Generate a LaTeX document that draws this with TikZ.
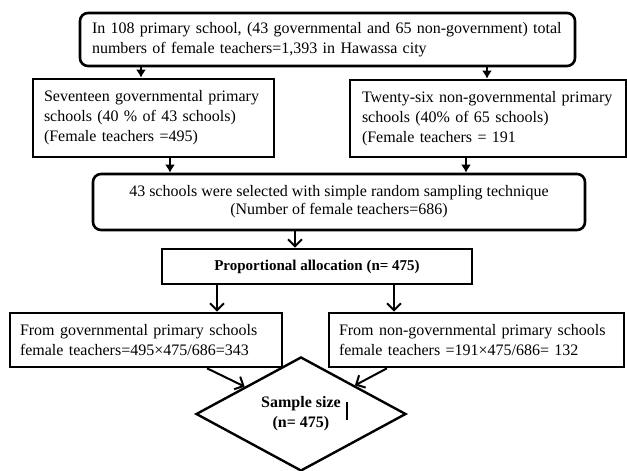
\documentclass[tikz,border=0pt]{standalone}
\usepackage{fontspec}
\setmainfont{Liberation Serif}
\usetikzlibrary{shapes.geometric,arrows.meta}
\begin{document}
\begin{tikzpicture}[x=1pt,y=-1pt,
  boxbase/.style={draw, line width=2.6pt, inner sep=0pt, font=\fontsize{16}{20}\selectfont},
  sqbox/.style={boxbase},
  rndbox/.style={boxbase, rounded corners=8pt},
  arrF/.style={line width=1.6pt, -{Latex[length=8pt,width=10pt]}},
  arrV/.style={line width=2pt, -{Straight Barb[length=7pt,width=14pt]}}]
\useasboundingbox (0,0) rectangle (627,471);

\node[rndbox, minimum width=495pt, minimum height=53pt, text width=471pt, align=left] (top) at (327.5,39.5)
  {In 108 primary school, (43 governmental and 65 non-government) total\\numbers of female teachers=1,393 in Hawassa city};
\node[sqbox, minimum width=241pt, minimum height=78pt, text width=219pt, align=left] (gov) at (153.5,118)
  {Seventeen governmental primary\\schools (40 \% of 43 schools)\\(Female teachers =495)};
\node[sqbox, minimum width=276pt, minimum height=77pt, text width=252pt, align=left] (ngov) at (488,118.5)
  {Twenty-six non-governmental primary\\schools (40\% of 65 schools)\\(Female teachers = 191};
\node[rndbox, minimum width=492pt, minimum height=56pt, align=center, font=\fontsize{16}{18}\selectfont] (mid) at (339,202)
  {43 schools were selected with simple random  sampling technique\\(Number of female teachers=686)};
\node[sqbox, minimum width=310pt, minimum height=35pt, font=\fontsize{15}{18}\selectfont\bfseries] (prop) at (317,266.5)
  {Proportional allocation (n= 475)};
\node[sqbox, minimum width=272pt, minimum height=54pt, text width=252pt, align=left] (bl) at (146,340)
  {From governmental primary schools\\female teachers=495×475/686=343};
\node[sqbox, minimum width=295pt, minimum height=54pt, text width=275pt, align=left] (br) at (476.5,340)
  {From non-governmental primary schools\\female teachers =191×475/686= 132};
\node[diamond, draw, line width=2.4pt, inner sep=0pt, minimum width=210pt, minimum height=110pt,
  align=center, font=\fontsize{16}{20}\selectfont\bfseries] (dia) at (301,414)
  {Sample size\\(n= 475)};

\draw[line width=1.5pt] (347,402) -- (347,420);

\coordinate (xa) at (141,0);
\coordinate (xb) at (487,0);
\coordinate (xc) at (170,0);
\coordinate (xd) at (466,0);
\coordinate (xe) at (295,0);
\coordinate (xf) at (217,0);
\coordinate (xg) at (394,0);
\coordinate (xh) at (207,0);
\coordinate (xi) at (387,0);

\draw[arrF] (top.south -| xa) -- (gov.north -| xa);
\draw[arrF] (top.south -| xb) -- (ngov.north -| xb);
\draw[arrF] (gov.south -| xc) -- (mid.north -| xc);
\draw[arrF] (ngov.south -| xd) -- (mid.north -| xd);
\draw[arrV] (mid.south -| xe) -- (prop.north -| xe);
\draw[arrV] (prop.south -| xf) -- (bl.north -| xf);
\draw[arrV] (prop.south -| xg) -- (br.north -| xg);
\draw[arrV] (bl.south -| xh) -- (dia);
\draw[arrV] (br.south -| xi) -- (dia);
\end{tikzpicture}
\end{document}
